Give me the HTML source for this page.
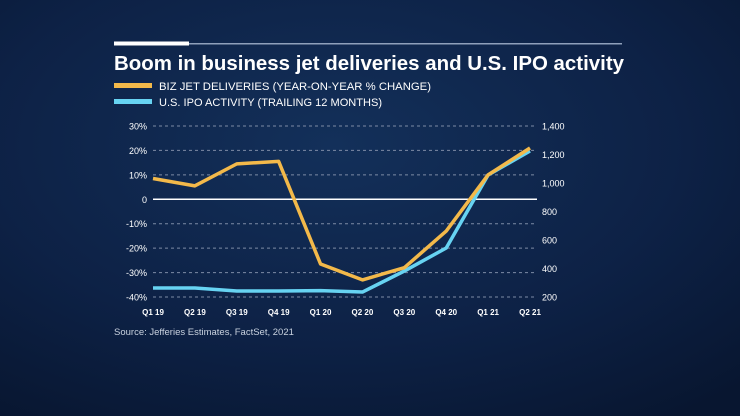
<!DOCTYPE html>
<html><head><meta charset="utf-8"><style>
html,body{margin:0;padding:0;width:740px;height:416px;overflow:hidden;background:#0c1d3a;}
svg{display:block;font-family:"Liberation Sans",sans-serif;}
</style></head><body>
<svg width="740" height="416" viewBox="0 0 740 416">
<defs>
<radialGradient id="bg" cx="45%" cy="35%" r="80%">
<stop offset="0" stop-color="#13305a"/><stop offset="0.6" stop-color="#0d2145"/><stop offset="1" stop-color="#081630"/>
</radialGradient>
</defs>
<rect width="740" height="416" fill="url(#bg)"/>
<rect x="114" y="43" width="508" height="1.5" fill="#8fa0bb"/>
<rect x="114" y="41.5" width="75" height="4" fill="#ffffff"/>
<text x="114" y="70" fill="#fff" font-size="20" font-weight="bold" textLength="510" lengthAdjust="spacingAndGlyphs">Boom in business jet deliveries and U.S. IPO activity</text>
<rect x="114" y="83" width="38" height="5" fill="#f3b94a"/>
<text x="159" y="90" fill="#fff" font-size="11" textLength="272" lengthAdjust="spacingAndGlyphs">BIZ JET DELIVERIES (YEAR-ON-YEAR % CHANGE)</text>
<rect x="114" y="99" width="38" height="5" fill="#67d3f2"/>
<text x="159" y="106" fill="#fff" font-size="11" textLength="223" lengthAdjust="spacingAndGlyphs">U.S. IPO ACTIVITY (TRAILING 12 MONTHS)</text>
<g id="plot"></g>
<text x="114" y="335" fill="#c9d2df" font-size="9.5">Source: Jefferies Estimates, FactSet, 2021</text>
</svg>
<script>
const categories=["Q1 19","Q2 19","Q3 19","Q4 19","Q1 20","Q2 20","Q3 20","Q4 20","Q1 21","Q2 21"];
const jetValues=[8.5,5.5,14.5,15.5,-26.5,-33,-28,-13,10,21];
const ipoValues=[263,263,242,242,245,235,382,544,1056,1225];
const leftTicks=[30,20,10,0,-10,-20,-30,-40];
const leftLabels=["30%","20%","10%","0","-10%","-20%","-30%","-40%"];
const rightTicks=[1400,1200,1000,800,600,400,200];
const rightLabels=["1,400","1,200","1,000","800","600","400","200"];
const NS="http://www.w3.org/2000/svg";
const g=document.getElementById('plot');
const x0=153,x1=530,gx1=537;
const xs=i=>x0+(x1-x0)*i/(categories.length-1);
const yL=v=>126+(30-v)/70*171;
const yR=v=>126+(1400-v)/1200*171;
function mk(t,a){const e=document.createElementNS(NS,t);for(const k in a)e.setAttribute(k,a[k]);g.appendChild(e);return e;}
leftTicks.forEach((v,i)=>{
  const y=yL(v);
  const l=mk('line',{x1:x0,x2:gx1,y1:y,y2:y,stroke:v===0?'#ffffff':'#7d8ba5','stroke-width':v===0?1.5:1,'stroke-dasharray':v===0?'none':'3 3'});
  
  
  const t=mk('text',{x:147,y:y+3.5,fill:'#fff','font-size':9,'text-anchor':'end'});
  t.textContent=leftLabels[i];
  
  
});
rightTicks.forEach((v,i)=>{
  const t=mk('text',{x:542,y:yR(v)+3.5,fill:'#fff','font-size':9});
  t.textContent=rightLabels[i];
  
  
});
categories.forEach((c,i)=>{
  const t=mk('text',{x:xs(i),y:315,fill:'#fff','font-size':8,'text-anchor':'middle','font-weight':'bold'});
  t.textContent=c;
  
  
});
const ipo=mk('polyline',{points:ipoValues.map((v,i)=>xs(i)+','+yR(v)).join(' '),fill:'none',stroke:'#67d3f2','stroke-width':3.5,'stroke-linejoin':'round'});


const jet=mk('polyline',{points:jetValues.map((v,i)=>xs(i)+','+yL(v)).join(' '),fill:'none',stroke:'#f3b94a','stroke-width':3.5,'stroke-linejoin':'round'});


</script>
</body></html>
